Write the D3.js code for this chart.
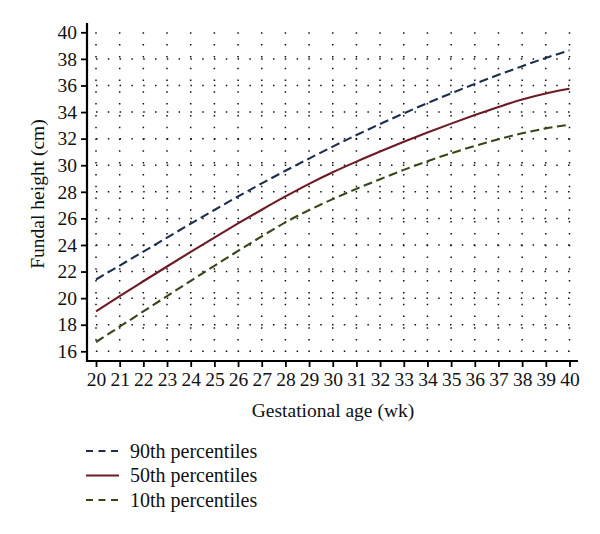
<!DOCTYPE html>
<html>
<head>
<meta charset="utf-8">
<script src="https://cdn.jsdelivr.net/npm/d3@7"></script>
<style>
  html, body { margin: 0; padding: 0; background: #fff; }
  text { font-family: "Liberation Serif", "DejaVu Serif", serif; fill: #111; }
</style>
</head>
<body>
<svg id="chart" width="600" height="534"></svg>
<script>
const weeks = [20,21,22,23,24,25,26,27,28,29,30,31,32,33,34,35,36,37,38,39,40];
const p90 = [21.4,22.45,23.5,24.55,25.6,26.63,27.65,28.63,29.58,30.5,31.4,32.27,33.1,33.9,34.67,35.41,36.12,36.8,37.45,38.07,38.65];
const p50 = [19.0,20.15,21.27,22.38,23.48,24.56,25.62,26.65,27.65,28.6,29.47,30.27,31.03,31.76,32.46,33.13,33.77,34.38,34.95,35.4,35.75];
const p10 = [16.7,17.85,19.0,20.15,21.3,22.43,23.55,24.65,25.7,26.62,27.45,28.22,28.95,29.65,30.3,30.9,31.45,31.95,32.4,32.77,33.05];
const yTicks = [16,18,20,22,24,26,28,30,32,34,36,38,40];
const seriesNames = ["90th percentiles", "50th percentiles", "10th percentiles"];
const seriesColors = ["#1c2e4e", "#6e1a26", "#36481a"];
const seriesDash = ["9,4.5", null, "9,4.5"];
const seriesData = [p90, p50, p10];

const svg = d3.select("#chart");
const x = d3.scaleLinear().domain([20, 40]).range([96, 569.5]);
const y = d3.scaleLinear().domain([16, 40]).range([351.3, 32.3]);
const xLeft = 87, yBottom = 361;
const FONT = '"Liberation Serif", serif';

// dotted grid
const grid = svg.append("g");
grid.selectAll("line.h").data(yTicks.filter(t => t < 40)).join("line")
  .attr("x1", x(20)).attr("x2", x(40) + 2)
  .attr("y1", d => y(d)).attr("y2", d => y(d))
  .attr("stroke", "#111").attr("stroke-width", 1.5)
  .attr("stroke-dasharray", "1.5,10.3");
grid.selectAll("line.v").data(weeks).join("line")
  .attr("x1", d => x(d)).attr("x2", d => x(d))
  .attr("y1", y(40)).attr("y2", y(16))
  .attr("stroke", "#111").attr("stroke-width", 1.5)
  .attr("stroke-dasharray", "1.5,10.3");

// axes
const xAxis = d3.axisBottom(x).tickValues(weeks).tickSize(6).tickPadding(5).tickFormat(d3.format("d"));
const gx = svg.append("g").attr("transform", `translate(0,${yBottom})`).call(xAxis);
gx.select(".domain").remove();
gx.append("line").attr("x1", xLeft - 1).attr("x2", 578).attr("y1", 0).attr("y2", 0)
  .attr("stroke", "#000").attr("stroke-width", 2.2);
gx.selectAll(".tick line").attr("stroke", "#000").attr("stroke-width", 1.8);
gx.selectAll(".tick text").attr("font-size", 19.5).attr("fill", "#111").style("font-family", FONT);

const yAxis = d3.axisLeft(y).tickValues(yTicks).tickSize(6).tickPadding(4).tickFormat(d3.format("d"));
const gy = svg.append("g").attr("transform", `translate(${xLeft},0)`).call(yAxis);
gy.select(".domain").remove();
gy.append("line").attr("x1", 0).attr("x2", 0).attr("y1", 23).attr("y2", yBottom + 1)
  .attr("stroke", "#000").attr("stroke-width", 2.2);
gy.selectAll(".tick line").attr("stroke", "#000").attr("stroke-width", 1.8);
gy.selectAll(".tick text").attr("font-size", 19.5).attr("fill", "#111").style("font-family", FONT);

// lines
const line = d3.line().curve(d3.curveMonotoneX);
seriesData.forEach((vals, i) => {
  svg.append("path")
    .attr("d", line(weeks.map((w, j) => [x(w), y(vals[j])])))
    .attr("fill", "none")
    .attr("stroke", seriesColors[i])
    .attr("stroke-width", 2.1)
    .attr("stroke-dasharray", seriesDash[i]);
});

// axis titles
svg.append("text").attr("x", 333).attr("y", 417).attr("text-anchor", "middle")
  .attr("font-size", 19.5).text("Gestational age (wk)");
svg.append("text").attr("transform", "translate(44,194) rotate(-90)")
  .attr("text-anchor", "middle").attr("font-size", 19.5).text("Fundal height (cm)");

// legend
const lg = svg.append("g");
seriesNames.forEach((name, i) => {
  const yy = 451 + i * 24.5;
  lg.append("line").attr("x1", 86).attr("x2", 119).attr("y1", yy).attr("y2", yy)
    .attr("stroke", seriesColors[i]).attr("stroke-width", 2)
    .attr("stroke-dasharray", seriesDash[i] ? "7,5.5" : null);
  lg.append("text").attr("x", 130).attr("y", yy + 6.5).attr("font-size", 20).text(name);
});
</script>
</body>
</html>
